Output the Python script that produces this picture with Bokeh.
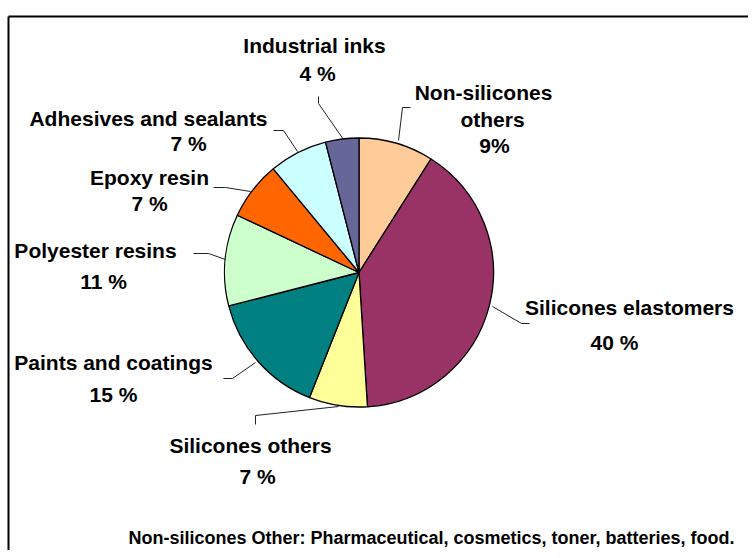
import math
from bokeh.plotting import figure
from bokeh.models import Range1d, ColumnDataSource
from bokeh.core.properties import value
from bokeh.embed import file_html
from bokeh.resources import INLINE

# ---------------- data ----------------
categories = ["Non-silicones others", "Silicones elastomers", "Silicones others",
              "Paints and coatings", "Polyester resins", "Epoxy resin",
              "Adhesives and sealants", "Industrial inks"]
shares = [9, 40, 7, 15, 11, 7, 7, 4]
pct_labels = ["9%", "40 %", "7 %", "15 %", "11 %", "7 %", "7 %", "4 %"]
footnote = "Non-silicones Other: Pharmaceutical, cosmetics, toner, batteries, food."

# ---------------- style / layout ----------------
colors = ["#FFCC99", "#993366", "#FFFF99", "#008080", "#CCFFCC", "#FF6600",
          "#CCFFFF", "#666699"]
W, H = 748, 550
FONT = "Liberation Sans"


def X(px):
    return px


def Y(py):
    return H - py


# label layout (pixel positions of text centres)
name_lines = [["Non-silicones", "others"], ["Silicones elastomers"], ["Silicones others"],
              ["Paints and coatings"], ["Polyester resins"], ["Epoxy resin"],
              ["Adhesives and sealants"], ["Industrial inks"]]
name_pos = [[(483, 92), (492, 119)], [(629, 307)], [(250, 445)], [(113, 362)],
            [(95, 250)], [(149, 177)], [(148, 118)], [(314, 45)]]
pct_pos = [(494, 145), (614, 342), (257, 476), (113, 394), (103, 281), (149, 203),
           (188, 143), (317, 73)]
leaders = [
    [(410, 107), (402, 107), (398, 140)],
    [(529, 323), (521, 323), (492, 306)],
    [(255, 424), (255, 415), (338, 406)],
    [(223, 378), (232, 378), (255, 362)],
    [(193, 253), (208, 253), (225, 259)],
    [(213, 187), (225, 187), (250, 191)],
    [(273, 130), (283, 130), (297, 151)],
    [(318, 96), (318, 103), (343, 139)],
]
center = (358.5, 272)
radius = 134.5

p = figure(width=W, height=H, output_backend="svg", toolbar_location=None,
           x_range=Range1d(0, W), y_range=Range1d(0, H), min_border=0)
p.axis.visible = False
p.grid.visible = False
p.outline_line_color = None
p.background_fill_color = "white"
p.border_fill_color = "white"

# pie wedges
total = float(sum(shares))
starts, ends = [], []
cum = 0.0
for v in shares:
    starts.append(math.pi / 2 - 2 * math.pi * cum / total)
    cum += v
    ends.append(math.pi / 2 - 2 * math.pi * cum / total)
src = ColumnDataSource(dict(cat=categories, val=shares, start=starts, end=ends, color=colors))
p.wedge(x=X(center[0]), y=Y(center[1]), radius=radius, start_angle="start", end_angle="end",
        direction="clock", fill_color="color", line_color="black", line_width=1.3, source=src)

# leader lines
p.multi_line(xs=[[X(a) for a, b in L] for L in leaders],
             ys=[[Y(b) for a, b in L] for L in leaders],
             line_color="#222222", line_width=1)

# labels
tx, ty, tt = [], [], []
for lines, poss, pct, pp in zip(name_lines, name_pos, pct_labels, pct_pos):
    for s, (a, b) in zip(lines, poss):
        tx.append(X(a)); ty.append(Y(b)); tt.append(s)
    tx.append(X(pp[0])); ty.append(Y(pp[1])); tt.append(pct)
p.text(x=tx, y=ty, text=tt, text_font=value(FONT), text_font_style="bold",
       text_font_size="21px", text_align="center", text_baseline="middle", text_color="black")

# footnote
p.text(x=[X(431)], y=[Y(537)], text=[footnote], text_font=value(FONT), text_font_style="bold",
       text_font_size="18px", text_align="center", text_baseline="middle", text_color="black")

# chart frame (clipped at right/bottom like the reference)
p.multi_line(xs=[[X(8), X(8)], [X(8), W]], ys=[[0, Y(16)], [Y(16), Y(16)]],
             line_color="black", line_width=2)

open("out.html", "w").write(file_html(p, INLINE))
